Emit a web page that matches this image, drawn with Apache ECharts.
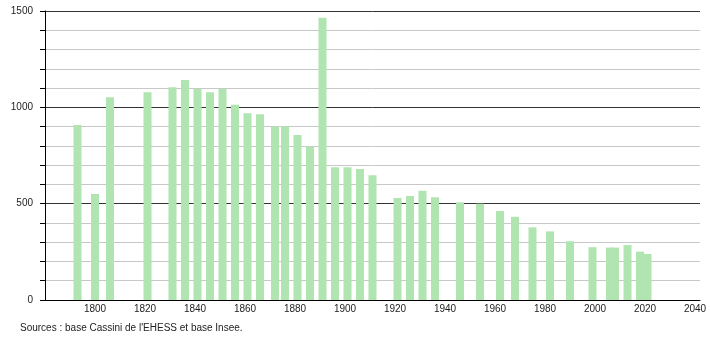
<!DOCTYPE html>
<html>
<head>
<meta charset="utf-8">
<script src="https://cdn.jsdelivr.net/npm/echarts@6/dist/echarts.min.js"></script>
<style>
html,body{margin:0;padding:0;background:#fff;}
#c{width:710px;height:340px;}
</style>
</head>
<body>
<div id="c"></div>
<script>
const years = [1793,1800,1806,1821,1831,1836,1841,1846,1851,1856,1861,1866,1872,1876,1881,1886,1891,1896,1901,1906,1911,1921,1926,1931,1936,1946,1954,1962,1968,1975,1982,1990,1999,2006,2008,2013,2018,2021];
const population = [908,550,1052,1078,1104,1142,1097,1078,1097,1013,969,964,900,900,856,796,1465,689,689,680,647,529,540,567,533,507,500,462,432,377,356,305,274,272,272,285,251,239];
const yTickLabels = [0,500,1000,1500];
const xTickLabels = [1800,1820,1840,1860,1880,1900,1920,1940,1960,1980,2000,2020,2040];
const sourceText = "Sources : base Cassini de l'EHESS et base Insee.";

const chart = echarts.init(document.getElementById('c'), null, {renderer:'canvas'});
chart.setOption({
  animation:false,
  backgroundColor:'#fff',
  textStyle:{fontFamily:'Liberation Sans, Arial, sans-serif'},
  grid:{left:45, right:10, top:11, bottom:40, containLabel:false},
  xAxis:{
    type:'value', min:1780, max:2042, interval:20,
    axisLine:{show:true, lineStyle:{color:'#000', width:1}},
    axisTick:{show:false},
    splitLine:{show:false},
    axisLabel:{
      color:'#222', fontSize:10, margin:4,
      showMinLabel:true, showMaxLabel:true,
      formatter:function(v){ return xTickLabels.indexOf(v)>=0 ? String(v) : ''; }
    }
  },
  yAxis:{
    type:'value', min:0, max:1500, interval:100,
    axisLine:{show:true, lineStyle:{color:'#000', width:1}},
    axisTick:{show:true, length:5, lineStyle:{color:'#000'}},
    splitLine:{show:true, lineStyle:{color:['#333','#c8c8c8','#c8c8c8','#c8c8c8','#c8c8c8'], width:1}},
    axisLabel:{
      color:'#222', fontSize:10, margin:12,
      formatter:function(v){ return yTickLabels.indexOf(v)>=0 ? String(v) : ''; }
    }
  },
  series:[{
    type:'bar',
    barWidth:8,
    itemStyle:{color:'#b0e4b0'},
    data: years.map((y,i)=>[y, population[i]])
  }],
  graphic:[{
    type:'text', left:20, top:323,
    style:{text:sourceText, fill:'#222', fontSize:10, fontFamily:'Liberation Sans, Arial, sans-serif'}
  }]
});
</script>
</body>
</html>
